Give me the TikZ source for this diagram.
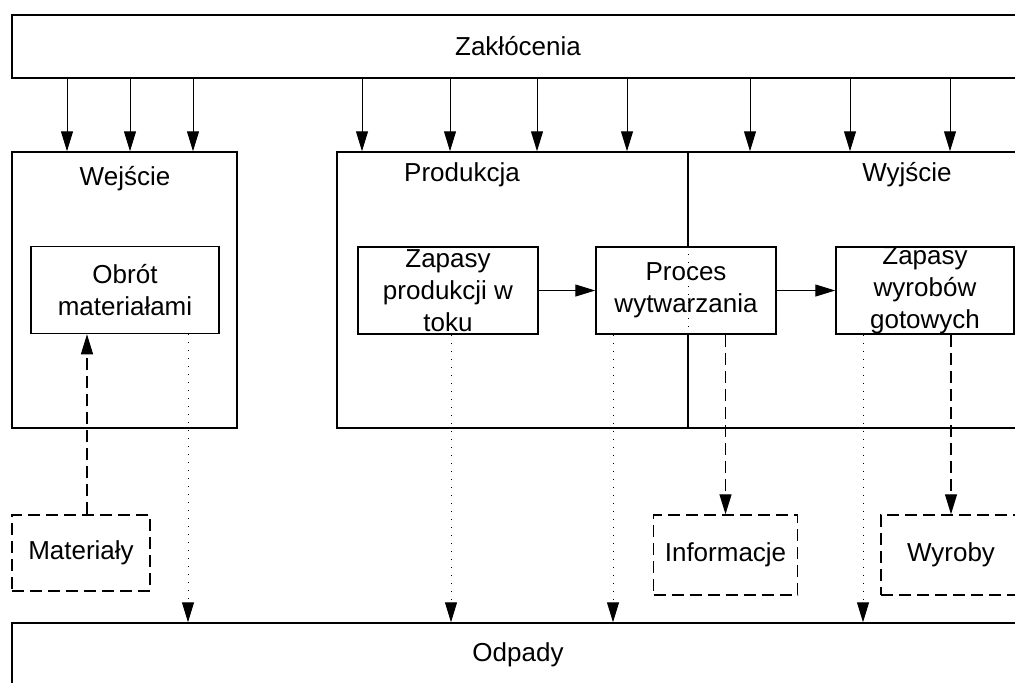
\documentclass[tikz,border=0pt]{standalone}
\usepackage{fontspec}
\setmainfont{Liberation Sans}
\usetikzlibrary{arrows.meta}

\begin{document}
\begin{tikzpicture}[x=0.5pt,y=-0.5pt,
    font=\fontsize{13pt}{16pt}\selectfont,
    frame/.style={draw,line width=0.75pt,inner sep=0pt},
    box/.style={draw,fill=white,line width=0.75pt,inner sep=0pt,align=center,minimum height=43.5pt},
    outbox/.style={draw,fill=white,line width=0.75pt,inner sep=0pt,dash pattern=on 6pt off 3pt},
    arr/.style={-{Triangle[length=10pt,width=6pt]},line width=0.5pt},
    dotline/.style={line width=0.5pt,dash pattern=on 0.5pt off 3.5pt},
    dashline/.style={line width=0.6pt,dash pattern=on 6pt off 3pt}]
                    \clip (0,0) rectangle (1015,682);

                    \node (zak) [frame,minimum width=506pt,minimum height=31.5pt] at (518,46.5) {Zakłócenia};
                    \node (odp) [frame,minimum width=506pt,minimum height=32pt] at (518,655) {Odpady};

                    \node (wej) [frame,minimum width=112.5pt,minimum height=138pt] at (124.5,290) {};
                    \node (prod) [frame,minimum width=175.5pt,minimum height=138pt] at (512.5,290) {};
                    \node (wyj) [frame,minimum width=171pt,minimum height=138pt] at (859,290) {};
                    \node (wejt) [anchor=base] at (125,185) {Wejście};
                    \node (prodt) [anchor=base] at (462,181) {Produkcja};
                    \node (wyjt) [anchor=base] at (907,181) {Wyjście};

                    \node (obrot) [box,minimum width=94pt] at (125,290) {Obrót\\materiałami};
                    \node (zpt) [box,minimum width=90pt] at (448,290.5) {Zapasy\\produkcji w\\toku};
                    \node (proc) [box,minimum width=90pt] at (686,290.5) {Proces\\wytwarzania};
                    \node (zwg) [box,minimum width=89pt] at (925,290.5) {Zapasy\\wyrobów\\gotowych};

                    \node (mat) [outbox,minimum width=69pt,minimum height=38pt] at (81,553) {Materiały};
                    \node (info) [outbox,minimum width=72pt,minimum height=40pt] at (725.5,555) {Informacje};
                    \node (wyr) [outbox,minimum width=70pt,minimum height=40pt] at (951,555) {Wyroby};

                    % zaklocenia
                    \foreach \x in {67,130,193}
                        \draw[arr] (\x,0 |- zak.south) -- (\x,0 |- wej.north);
                    \foreach \x in {362,450,537,627}
                        \draw[arr] (\x,0 |- zak.south) -- (\x,0 |- prod.north);
                    \foreach \x in {750,850,950}
                        \draw[arr] (\x,0 |- zak.south) -- (\x,0 |- wyj.north);

                    \draw[dotline] (688,0 |- proc.north) -- (688,0 |- proc.south);

                    \draw[arr] (zpt) -- (proc);
                    \draw[arr] (proc) -- (zwg);

                    \draw[arr,dashline] (87,0 |- mat.north) -- (87,0 |- obrot.south);
                    \draw[arr,dashline] (info.north |- proc.south) -- (info.north);
                    \draw[arr,dashline] (wyr.north |- zwg.south) -- (wyr.north);

                    % odpady
                    \draw[arr,dotline] (188,0 |- obrot.south) -- (188,0 |- odp.north);
                    \draw[arr,dotline] (451,0 |- zpt.south) -- (451,0 |- odp.north);
                    \draw[arr,dotline] (613,0 |- proc.south) -- (613,0 |- odp.north);
                    \draw[arr,dotline] (863,0 |- zwg.south) -- (863,0 |- odp.north);

                \end{tikzpicture}
\end{document}
